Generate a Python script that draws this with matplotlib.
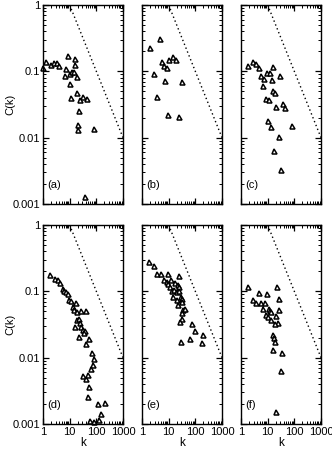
import matplotlib
matplotlib.use("Agg")
import matplotlib.pyplot as plt
import numpy as np
from matplotlib.ticker import LogLocator, FixedLocator, FixedFormatter, NullFormatter

plt.rcParams['font.family'] = ['Liberation Sans', 'DejaVu Sans']

# degree k and clustering C(k) for each panel
k_a = [1.0, 1.33, 1.92, 2.55, 3.3, 3.91, 8.43, 16.2, 7.31, 6.71, 10.3, 12.2, 14.5,
       16.2, 18.1, 10.3, 11.5, 18.7, 30.3, 24.1, 46.4, 22.8, 20.9, 20.9, 79.7, 37.0]
C_a = [0.1135, 0.140, 0.123, 0.132, 0.132, 0.120, 0.170, 0.155, 0.107, 0.0851, 0.0912,
       0.0977, 0.0977, 0.123, 0.081, 0.0637, 0.0401, 0.0476, 0.0415, 0.0370, 0.0378,
       0.0252, 0.0155, 0.0130, 0.0134, 0.00129]

k_b = [1.92, 4.78, 5.5, 6.53, 8.43, 10.6, 14.1, 19.2, 2.78, 7.53, 31.2, 3.8, 9.45, 23.4]
C_b = [0.227, 0.311, 0.140, 0.120, 0.112, 0.148, 0.166, 0.147, 0.090, 0.0723, 0.0683,
       0.0415, 0.0222, 0.0203]

k_c = [1.87, 2.86, 3.7, 4.78, 15.3, 9.45, 12.2, 5.66, 7.53, 14.1, 27.8, 6.71, 15.8,
       18.7, 8.43, 11.2, 39.1, 45.1, 20.4, 10.3, 13.7, 82.0, 25.5, 17.2, 33.0]
C_c = [0.120, 0.138, 0.128, 0.111, 0.116, 0.0955, 0.0944, 0.0841, 0.0775, 0.0731,
       0.0851, 0.0608, 0.0499, 0.0477, 0.0383, 0.0365, 0.0326, 0.0277, 0.0287, 0.0180,
       0.0147, 0.0150, 0.0104, 0.00637, 0.00326]

k_d = [1.87, 2.86, 3.7, 4.51, 5.5, 6.34, 7.31, 8.43, 9.72, 11.5, 13.7, 14.5, 17.7,
       19.2, 25.5, 41.4, 18.7, 22.8, 24.8, 26.3, 16.2, 30.3, 38.0, 33.9, 21.5, 40.3,
       55.1, 71.1, 82.0, 75.3, 65.3, 32.1, 42.6, 50.6, 53.5, 50.6, 112, 209, 145, 126,
       56.6, 82.0]
C_d = [0.176, 0.155, 0.147, 0.135, 0.108, 0.101, 0.0966, 0.0912, 0.0740, 0.0723,
       0.0574, 0.0517, 0.0659, 0.0494, 0.0511, 0.0511, 0.0370, 0.0378, 0.0329, 0.0293,
       0.0290, 0.0261, 0.0255, 0.0233, 0.0205, 0.0163, 0.0193, 0.0119, 0.00944,
       0.00766, 0.00683, 0.00529, 0.00476, 0.00542, 0.00366, 0.00255, 0.00203,
       0.00205, 0.00140, 0.00115, 0.00110, 0.00108]

k_e = [1.87, 2.86, 3.8, 5.35, 9.45, 24.8, 6.53, 8.43, 12.2, 9.45, 17.7, 21.5, 24.8,
       11.5, 13.3, 16.2, 20.4, 23.4, 14.1, 19.8, 28.6, 33.0, 31.2, 21.5, 34.9, 41.4,
       31.2, 32.1, 27.0, 73.1, 97.2, 61.7, 198, 181, 27.8]
C_e = [0.274, 0.241, 0.182, 0.182, 0.180, 0.170, 0.148, 0.138, 0.147, 0.128, 0.132,
       0.123, 0.117, 0.117, 0.102, 0.105, 0.0977, 0.102, 0.0832, 0.0740, 0.0832,
       0.0757, 0.0698, 0.0615, 0.0523, 0.0535, 0.0477, 0.0378, 0.0345, 0.0322,
       0.0255, 0.0189, 0.0222, 0.0164, 0.0172]

k_f = [1.87, 4.78, 9.45, 21.5, 2.86, 3.7, 5.83, 7.74, 27.0, 6.71, 10.9, 12.2, 13.7,
       26.3, 8.43, 10.3, 20.9, 13.7, 24.1, 19.2, 16.2, 17.2, 18.7, 15.8, 35.9, 30.3,
       19.8]
C_f = [0.115, 0.0933, 0.0912, 0.117, 0.0740, 0.0675, 0.0675, 0.0659, 0.0757, 0.0542,
       0.0542, 0.0511, 0.0482, 0.0523, 0.0435, 0.0406, 0.0425, 0.0370, 0.0337, 0.0318,
       0.0217, 0.0196, 0.0172, 0.0130, 0.0119, 0.00629, 0.00153]

panels = [('(a)', k_a, C_a), ('(b)', k_b, C_b), ('(c)', k_c, C_c),
          ('(d)', k_d, C_d), ('(e)', k_e, C_e), ('(f)', k_f, C_f)]

# reference power law C ~ 10/k
k_ref = [10, 1000]
C_ref = [1, 0.01]

fig = plt.figure(figsize=(3.32, 4.5), dpi=100)

lefts = [43/332, 142/332, 241/332]
bottoms = [(450-204)/450, (450-424)/450]
w, h = 80/332, 199/450

for i, (lab, k, C) in enumerate(panels):
    row, col = divmod(i, 3)
    ax = fig.add_axes([lefts[col], bottoms[row], w, h])
    ax.set_xscale('log')
    ax.set_yscale('log')
    ax.set_xlim(1, 1000)
    ax.set_ylim(0.001, 1)
    ax.plot(k_ref, C_ref, color='black', lw=1.0, linestyle=(0, (1, 2)))
    ax.plot(k, C, linestyle='none', marker='^', markersize=3.6,
            markerfacecolor='white', markeredgecolor='black', markeredgewidth=1.1,
            clip_on=False)
    ax.text(0.05, 0.095, lab, transform=ax.transAxes, fontsize=8, va='center')

    ax.xaxis.set_major_locator(FixedLocator([1, 10, 100, 1000]))
    ax.yaxis.set_major_locator(FixedLocator([0.001, 0.01, 0.1, 1]))
    ax.xaxis.set_minor_locator(LogLocator(base=10, subs=np.arange(2, 10), numticks=10))
    ax.yaxis.set_minor_locator(LogLocator(base=10, subs=np.arange(2, 10), numticks=10))
    ax.xaxis.set_minor_formatter(NullFormatter())
    ax.yaxis.set_minor_formatter(NullFormatter())
    ax.tick_params(which='both', direction='in', top=True, right=True,
                   labelsize=8, pad=2)
    ax.tick_params(which='major', length=4, width=0.9)
    ax.tick_params(which='minor', length=2, width=0.7)
    for s in ax.spines.values():
        s.set_linewidth(1.0)

    if col == 0:
        ax.yaxis.set_major_formatter(FixedFormatter(['0.001', '0.01', '0.1', '1']))
        ax.set_ylabel('C(k)', fontsize=8)
        ax.yaxis.set_label_coords(-0.35, 0.5)
    else:
        ax.yaxis.set_major_formatter(NullFormatter())
    if row == 1:
        ax.xaxis.set_major_formatter(FixedFormatter(['1', '10', '100', '1000']))
        ax.set_xlabel('k', fontsize=8.5, labelpad=0)
    else:
        ax.xaxis.set_major_formatter(NullFormatter())

plt.savefig('out.png', dpi=100)
